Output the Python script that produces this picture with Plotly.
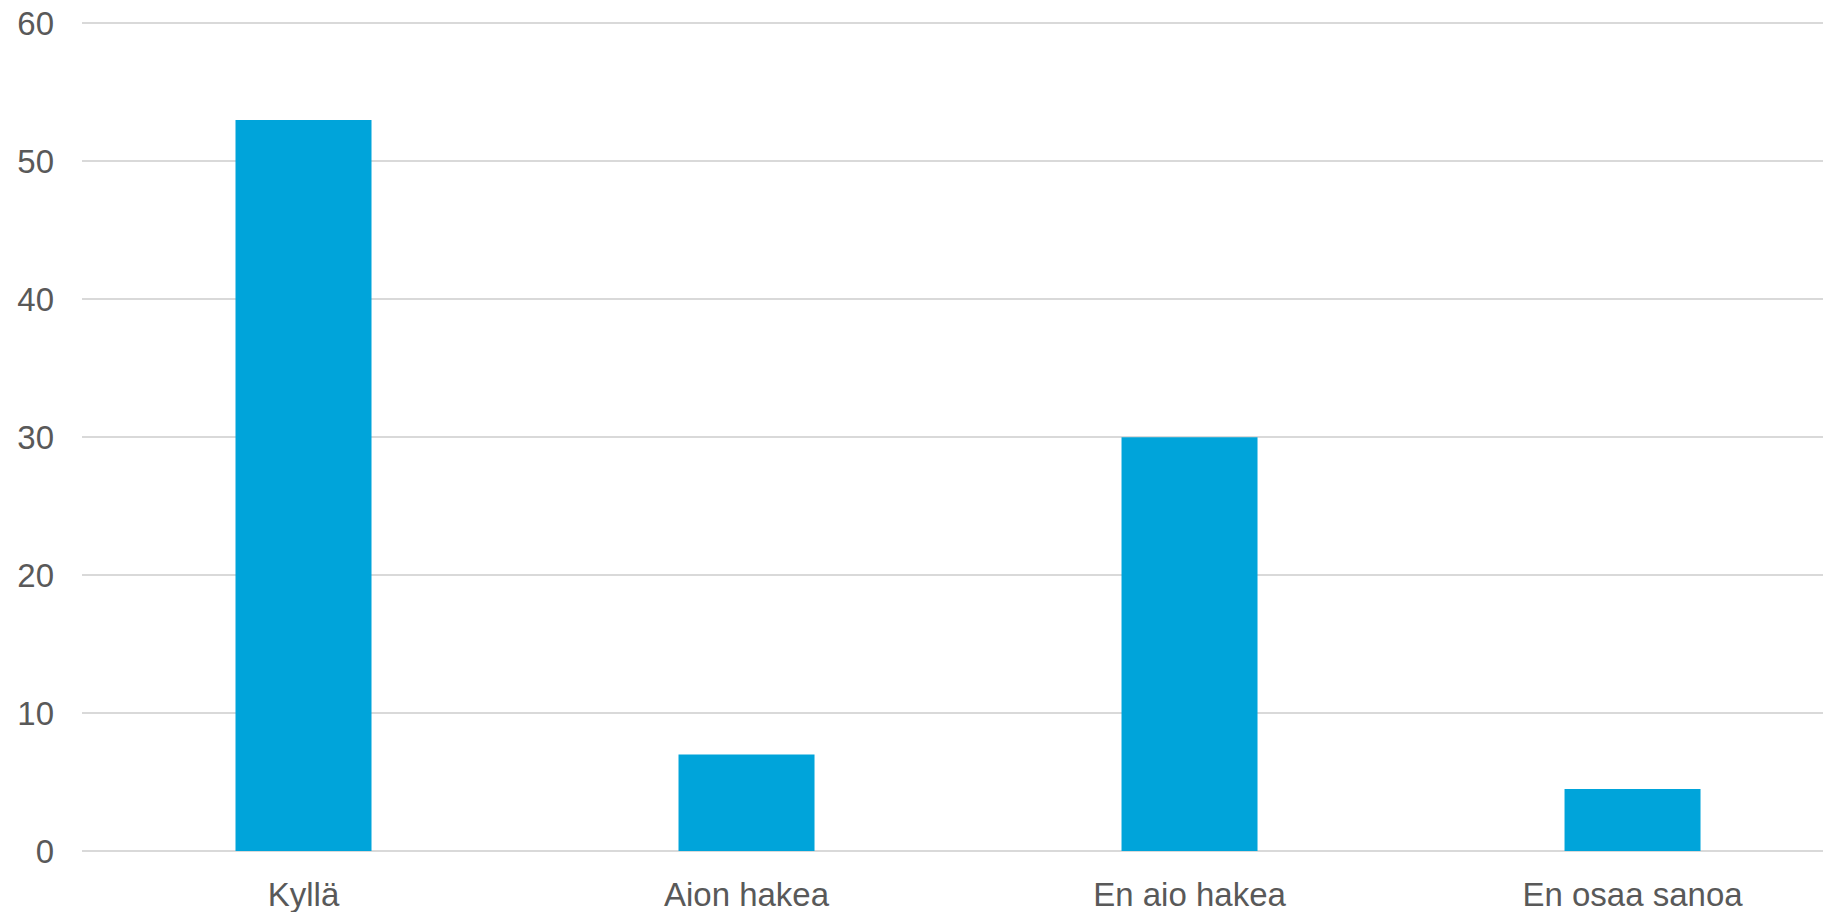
import plotly.graph_objects as go

categories = ["Kyllä", "Aion hakea", "En aio hakea", "En osaa sanoa"]
values = [53, 7, 30, 4.5]
y_ticks = [0, 10, 20, 30, 40, 50, 60]

fig = go.Figure(
    go.Bar(
        x=categories,
        y=values,
        width=0.307,
        marker=dict(color="#00A4DA", line=dict(width=0)),
    )
)

# page body has an 8px default margin; size the figure to fit the window
fig.update_layout(
    width=1823,
    height=904,
    margin=dict(l=74, r=0, t=14, b=61),
    paper_bgcolor="white",
    plot_bgcolor="white",
    showlegend=False,
    font=dict(family="Liberation Sans, Arial, sans-serif", size=33, color="#595959"),
    xaxis=dict(
        range=[-0.5, 3.448],
        showgrid=False,
        showline=False,
        zeroline=False,
        ticks="",
        ticklabelstandoff=21,
        ticklabeloverflow="allow",
        automargin=False,
    ),
    yaxis=dict(
        range=[0, 60.1],
        tickvals=y_ticks,
        showgrid=True,
        gridcolor="#D9D9D9",
        gridwidth=2,
        zeroline=True,
        zerolinecolor="#D9D9D9",
        zerolinewidth=2,
        showline=False,
        ticks="",
        ticklabelstandoff=27,
        ticklabeloverflow="allow",
        automargin=False,
    ),
)

fig.write_html("out.html")
